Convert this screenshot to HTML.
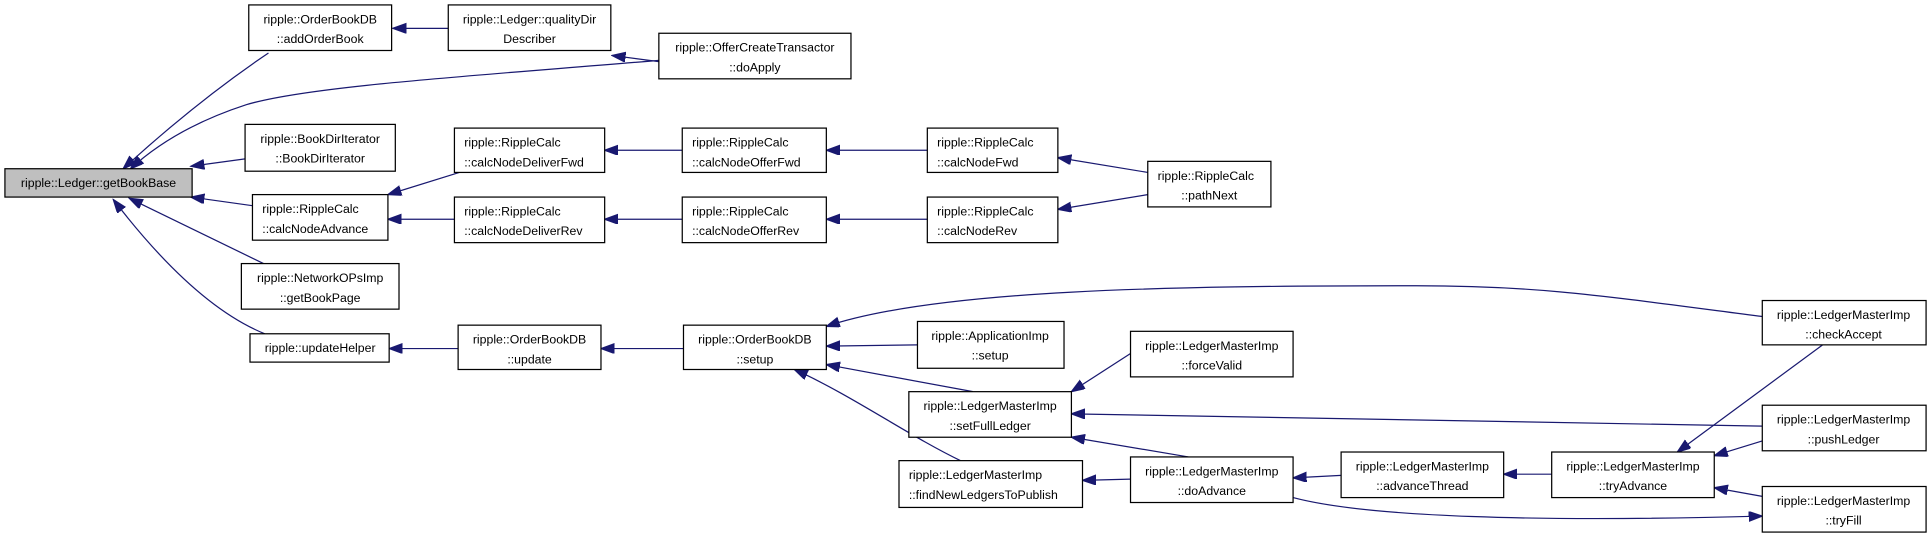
<!DOCTYPE html>
<html><head><meta charset="utf-8"><style>
html,body{margin:0;padding:0;background:#fff;}
svg{display:block;}
text{font-family:"Liberation Sans",Helvetica,Arial,sans-serif;font-size:10px;fill:#000;}
rect{fill:#fff;stroke:#000;stroke-width:1;}
path{fill:none;stroke:#191970;stroke-width:1;}
</style></head><body>
<svg width="1931" height="537" viewBox="0 0 1568 436" preserveAspectRatio="none" xmlns="http://www.w3.org/2000/svg">
<defs>
<marker id="a" markerUnits="userSpaceOnUse" markerWidth="12" markerHeight="10" refX="11" refY="4" orient="auto">
<path d="M0,0 L11,4 L0,8 Z" style="fill:#191970;stroke:#191970"/>
</marker>
</defs>
<g>
<path d="M218,43 C175,72 135,105 100,137" marker-end="url(#a)"/>
<path d="M535,49 C380,62 250,70 200,85 C160,98 130,115 106,137" marker-end="url(#a)"/>
<path d="M199,129 L155,135" marker-end="url(#a)"/>
<path d="M205,167 L155,160" marker-end="url(#a)"/>
<path d="M214,214 L105,161" marker-end="url(#a)"/>
<path d="M215,271 C168,252 125,205 92,162" marker-end="url(#a)"/>
<path d="M364,23 L319,23" marker-end="url(#a)"/>
<path d="M535,50 L497,45" marker-end="url(#a)"/>
<path d="M373,140 L315,158" marker-end="url(#a)"/>
<path d="M369,178 L315,178" marker-end="url(#a)"/>
<path d="M554,122 L491,122" marker-end="url(#a)"/>
<path d="M554,178 L491,178" marker-end="url(#a)"/>
<path d="M753,122 L671,122" marker-end="url(#a)"/>
<path d="M753,178 L671,178" marker-end="url(#a)"/>
<path d="M932,140 L859,128" marker-end="url(#a)"/>
<path d="M932,158 L859,170" marker-end="url(#a)"/>
<path d="M372,283 L316,283" marker-end="url(#a)"/>
<path d="M555,283 L488,283" marker-end="url(#a)"/>
<path d="M745,280 L671,281" marker-end="url(#a)"/>
<path d="M790,318 L671,296" marker-end="url(#a)"/>
<path d="M780,374 C740,355 690,320 645,300" marker-end="url(#a)"/>
<path d="M1431,257 C1300,240 1250,232 1150,232 C950,232 760,235 671,265" marker-end="url(#a)"/>
<path d="M918,287 L870,318" marker-end="url(#a)"/>
<path d="M1431,346 C1200,342 1000,337 870,336" marker-end="url(#a)"/>
<path d="M965,371 L870,355" marker-end="url(#a)"/>
<path d="M918,389 L879,390" marker-end="url(#a)"/>
<path d="M1089,386 L1050,388" marker-end="url(#a)"/>
<path d="M1260,385 L1221,385" marker-end="url(#a)"/>
<path d="M1480,280 L1362,367" marker-end="url(#a)"/>
<path d="M1431,358 L1392,370" marker-end="url(#a)"/>
<path d="M1431,403 L1392,396" marker-end="url(#a)"/>
<path d="M1050,404 C1110,420 1250,424 1431,419" marker-end="url(#a)"/>
</g>
<rect x="4" y="137" width="152" height="23" style="fill:#bfbfbf"/>
<text x="80" y="152" text-anchor="middle">ripple::Ledger::getBookBase</text>

<rect x="202" y="4" width="116" height="37"/>
<text x="260" y="19" text-anchor="middle">ripple::OrderBookDB</text>
<text x="260" y="35" text-anchor="middle">::addOrderBook</text>

<rect x="364" y="4" width="132" height="37"/>
<text x="430" y="19" text-anchor="middle">ripple::Ledger::qualityDir</text>
<text x="430" y="35" text-anchor="middle">Describer</text>

<rect x="535" y="27" width="156" height="37"/>
<text x="613" y="42" text-anchor="middle">ripple::OfferCreateTransactor</text>
<text x="613" y="58" text-anchor="middle">::doApply</text>

<rect x="199" y="101" width="122" height="38"/>
<text x="260" y="116" text-anchor="middle">ripple::BookDirIterator</text>
<text x="260" y="132" text-anchor="middle">::BookDirIterator</text>

<rect x="205" y="158" width="110" height="37"/>
<text x="213" y="173">ripple::RippleCalc</text>
<text x="213" y="189">::calcNodeAdvance</text>

<rect x="369" y="104" width="122" height="36"/>
<text x="377" y="119">ripple::RippleCalc</text>
<text x="377" y="135">::calcNodeDeliverFwd</text>

<rect x="369" y="160" width="122" height="37"/>
<text x="377" y="175">ripple::RippleCalc</text>
<text x="377" y="191">::calcNodeDeliverRev</text>

<rect x="554" y="104" width="117" height="36"/>
<text x="562" y="119">ripple::RippleCalc</text>
<text x="562" y="135">::calcNodeOfferFwd</text>

<rect x="554" y="160" width="117" height="37"/>
<text x="562" y="175">ripple::RippleCalc</text>
<text x="562" y="191">::calcNodeOfferRev</text>

<rect x="753" y="104" width="106" height="36"/>
<text x="761" y="119">ripple::RippleCalc</text>
<text x="761" y="135">::calcNodeFwd</text>

<rect x="753" y="160" width="106" height="37"/>
<text x="761" y="175">ripple::RippleCalc</text>
<text x="761" y="191">::calcNodeRev</text>

<rect x="932" y="131" width="100" height="37"/>
<text x="940" y="146">ripple::RippleCalc</text>
<text x="982" y="162" text-anchor="middle">::pathNext</text>

<rect x="196" y="214" width="128" height="37"/>
<text x="260" y="229" text-anchor="middle">ripple::NetworkOPsImp</text>
<text x="260" y="245" text-anchor="middle">::getBookPage</text>

<rect x="203" y="271" width="113" height="23"/>
<text x="260" y="286" text-anchor="middle">ripple::updateHelper</text>

<rect x="372" y="264" width="116" height="36"/>
<text x="430" y="279" text-anchor="middle">ripple::OrderBookDB</text>
<text x="430" y="295" text-anchor="middle">::update</text>

<rect x="555" y="264" width="116" height="36"/>
<text x="613" y="279" text-anchor="middle">ripple::OrderBookDB</text>
<text x="613" y="295" text-anchor="middle">::setup</text>

<rect x="745" y="261" width="119" height="38"/>
<text x="804" y="276" text-anchor="middle">ripple::ApplicationImp</text>
<text x="804" y="292" text-anchor="middle">::setup</text>

<rect x="918" y="269" width="132" height="37"/>
<text x="984" y="284" text-anchor="middle">ripple::LedgerMasterImp</text>
<text x="984" y="300" text-anchor="middle">::forceValid</text>

<rect x="738" y="318" width="132" height="37"/>
<text x="804" y="333" text-anchor="middle">ripple::LedgerMasterImp</text>
<text x="804" y="349" text-anchor="middle">::setFullLedger</text>

<rect x="730" y="374" width="149" height="38"/>
<text x="738" y="389">ripple::LedgerMasterImp</text>
<text x="738" y="405">::findNewLedgersToPublish</text>

<rect x="918" y="371" width="132" height="37"/>
<text x="984" y="386" text-anchor="middle">ripple::LedgerMasterImp</text>
<text x="984" y="402" text-anchor="middle">::doAdvance</text>

<rect x="1089" y="367" width="132" height="37"/>
<text x="1155" y="382" text-anchor="middle">ripple::LedgerMasterImp</text>
<text x="1155" y="398" text-anchor="middle">::advanceThread</text>

<rect x="1260" y="367" width="132" height="37"/>
<text x="1326" y="382" text-anchor="middle">ripple::LedgerMasterImp</text>
<text x="1326" y="398" text-anchor="middle">::tryAdvance</text>

<rect x="1431" y="244" width="133" height="36"/>
<text x="1497" y="259" text-anchor="middle">ripple::LedgerMasterImp</text>
<text x="1497" y="275" text-anchor="middle">::checkAccept</text>

<rect x="1431" y="329" width="133" height="37"/>
<text x="1497" y="344" text-anchor="middle">ripple::LedgerMasterImp</text>
<text x="1497" y="360" text-anchor="middle">::pushLedger</text>

<rect x="1431" y="395" width="133" height="37"/>
<text x="1497" y="410" text-anchor="middle">ripple::LedgerMasterImp</text>
<text x="1497" y="426" text-anchor="middle">::tryFill</text>
</svg>
</body></html>
